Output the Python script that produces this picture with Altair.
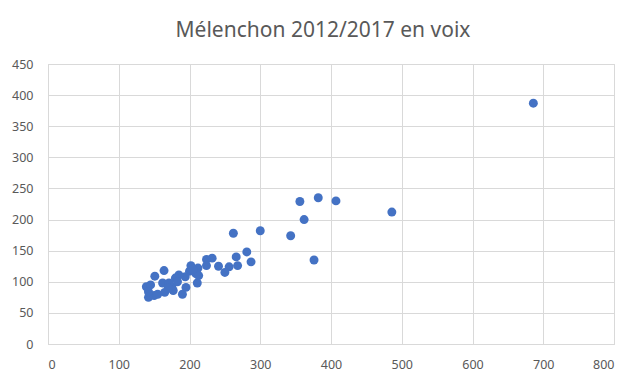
import altair as alt
import pandas as pd

# votes 2012 (x) and 2017 (y)
voix_2012 = [686, 356, 382, 407, 486, 362, 262, 300, 343, 376, 281, 287, 266, 268,
             256, 250, 241, 232, 224, 224, 212, 202, 200, 209, 211, 194, 195, 190,
             185, 180, 175, 177, 165, 164, 162, 151, 150, 142, 139, 145, 142, 171,
             183, 213, 205, 170, 155]
voix_2017 = [387, 229, 235, 230, 212, 200, 178, 182, 174, 135, 148, 132, 140, 126,
             124, 115, 125, 138, 136, 126, 122, 126, 117, 113, 98, 108, 91, 80,
             111, 106, 92, 86, 83, 118, 98, 109, 78, 75, 92, 95, 84, 98,
             100, 110, 120, 90, 80]

df = pd.DataFrame({"x": voix_2012, "y": voix_2017})

chart = alt.Chart(df).mark_circle(size=80, opacity=1, color="#4472C4").encode(
    x=alt.X("x:Q", scale=alt.Scale(domain=[0, 800], nice=False),
            axis=alt.Axis(values=list(range(0, 801, 100)), title=None)),
    y=alt.Y("y:Q", scale=alt.Scale(domain=[0, 450], nice=False),
            axis=alt.Axis(values=list(range(0, 451, 50)), title=None)),
).properties(
    width=566, height=280,
    title=alt.TitleParams("Mélenchon 2012/2017 en voix", fontSize=21, font="Noto Sans",
                          fontWeight="normal", color="#595959", offset=17, dx=-8),
    autosize=alt.AutoSizeParams(type="none"),
    padding={"left": 40, "top": 56, "right": 22, "bottom": 33},
).configure_view(stroke="#D9D9D9").configure_axis(
    grid=True, gridColor="#D9D9D9", domainColor="#D9D9D9", ticks=False,
    labelFont="Noto Sans", labelFontSize=12.5, labelColor="#595959",
).configure_axisY(labelPadding=15).configure_axisX(labelPadding=14)

chart.save("out.html", embed_options={"renderer": "svg", "actions": False})
